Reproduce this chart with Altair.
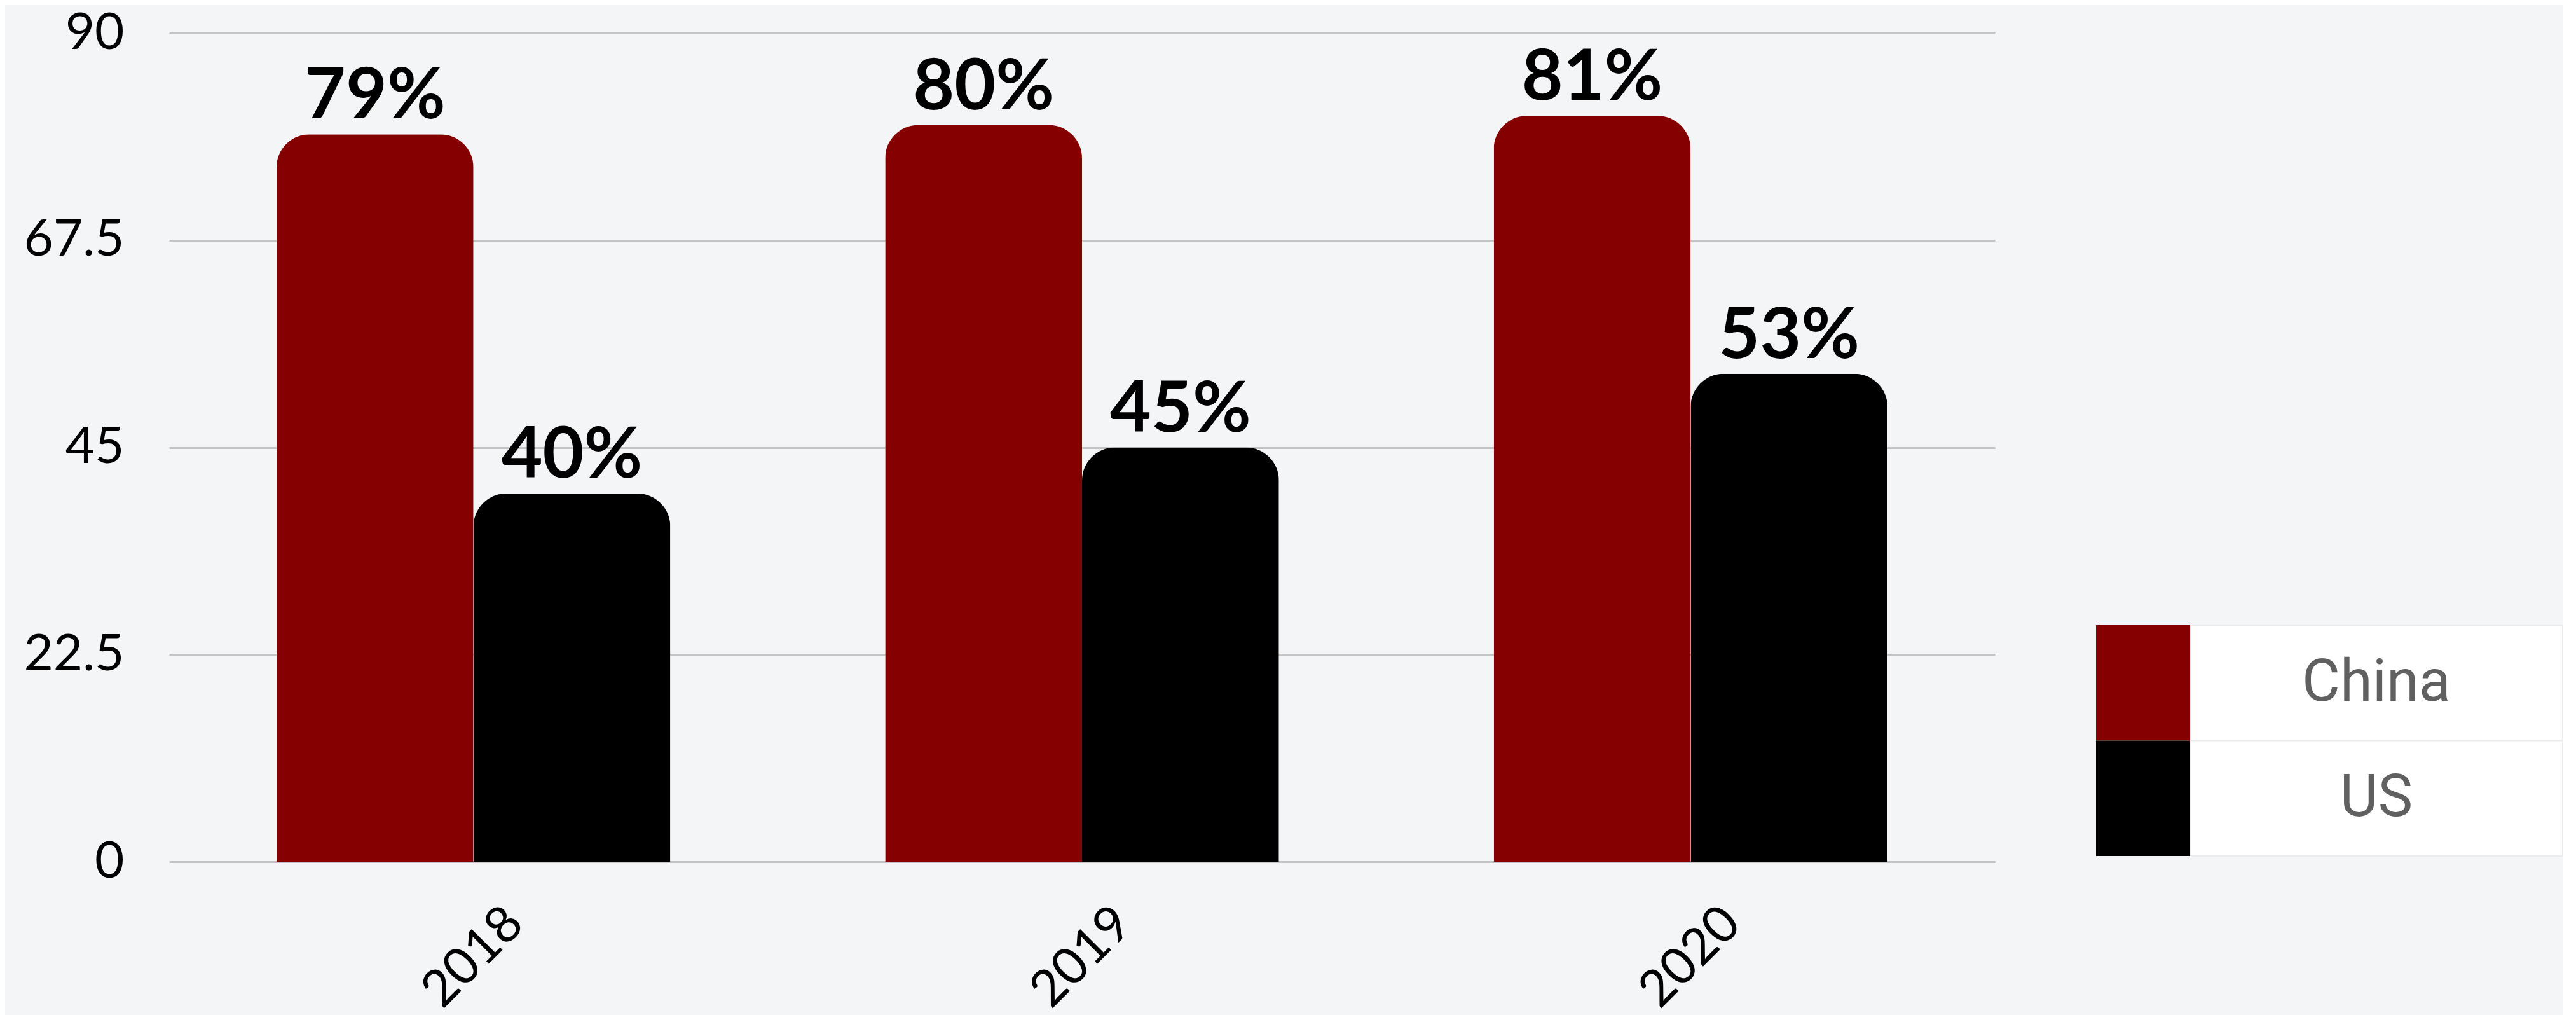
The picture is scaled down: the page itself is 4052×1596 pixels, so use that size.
import altair as alt
import pandas as pd

years = ["2018", "2019", "2020"]
countries = ["China", "US"]
china_values = [79, 80, 81]
us_values = [40, 45, 53]
y_ticks = [0, 22.5, 45, 67.5, 90]
colors = ["#850000", "#000000"]

rows = []
for i, yr in enumerate(years):
    rows.append({"year": yr, "country": "China", "value": china_values[i]})
    rows.append({"year": yr, "country": "US", "value": us_values[i]})
df = pd.DataFrame(rows)

W, H = 2872, 1303

x = alt.X("year:N", sort=years, title=None,
          scale=alt.Scale(paddingInner=0.353, paddingOuter=0.1765),
          axis=alt.Axis(labelAngle=-45, labelAlign="center", labelBaseline="middle",
                        labelPadding=150, ticks=False, tickSize=0, domain=False,
                        labelFont="Lato", labelFontSize=80, labelColor="#000000",
                        labelLimit=0, grid=False))
xo = alt.XOffset("country:N", sort=countries,
                 scale=alt.Scale(paddingInner=0, paddingOuter=0))
y = alt.Y("value:Q", title=None, scale=alt.Scale(domain=[0, 90], nice=False),
          axis=alt.Axis(values=y_ticks, labelExpr="'' + datum.value", labelFont="Lato",
                        labelFontSize=80, labelColor="#000000", labelPadding=71,
                        ticks=False, tickSize=0, labelLimit=0, domain=False, grid=True,
                        gridColor="#c4c4c4", gridWidth=3))
color = alt.Color("country:N", scale=alt.Scale(domain=countries, range=colors), legend=None)

bars = alt.Chart(df).mark_bar(cornerRadiusTopLeft=52, cornerRadiusTopRight=52).encode(
    x=x, xOffset=xo, y=y, color=color)

labels = alt.Chart(df).transform_calculate(
    label="format(datum.value, 'd') + '%'"
).mark_text(font="Lato", fontWeight="bold", fontSize=112, baseline="alphabetic", dy=-25,
            color="#000000").encode(x=x, xOffset=xo, y=y, text="label:N")

main = alt.layer(bars, labels).properties(width=W, height=H)

leg_df = pd.DataFrame({"country": countries})
ly = alt.Y("country:N", sort=countries, axis=None,
           scale=alt.Scale(domain=countries, range=[931, 1294], paddingInner=0, paddingOuter=0))
leg_color = alt.Color("country:N", scale=alt.Scale(domain=countries, range=colors), legend=None)

cells = alt.Chart(leg_df).mark_rect(color="#ffffff", stroke="#ececec", strokeWidth=2).encode(
    x=alt.value(148), x2=alt.value(734), y=ly)
swatches = alt.Chart(leg_df).mark_rect().encode(
    x=alt.value(0), x2=alt.value(148), y=ly, color=leg_color)
leg_text = alt.Chart(leg_df).mark_text(font="Roboto", fontSize=92, color="#606060").encode(
    x=alt.value(441), y=ly, text="country:N")

legend = alt.layer(cells, swatches, leg_text).properties(width=734, height=H)

chart = alt.hconcat(main, legend, spacing=159, bounds="flush").properties(
    padding={"left": 28, "top": 4, "right": 0, "bottom": 0},
    background="#f4f5f7",
).configure_view(stroke=None)

chart.save("out.html", embed_options={"renderer": "svg", "actions": False})
